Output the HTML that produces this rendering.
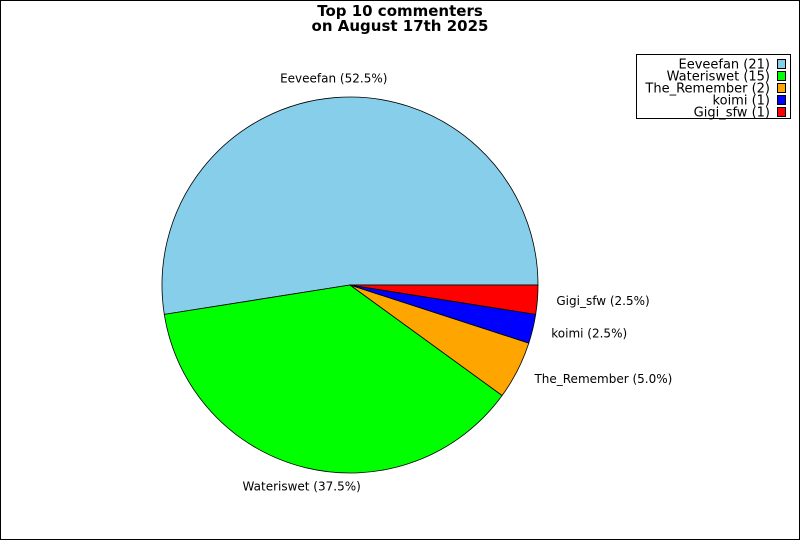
<!DOCTYPE html>
<html><head><meta charset="utf-8"><style>
body{margin:0;background:#fff}
svg{display:block;font-family:"DejaVu Sans","Liberation Sans",sans-serif}
</style></head><body>
<svg id="chart" width="800" height="540">
<rect x="0.5" y="0.5" width="799" height="539" fill="#fff" stroke="#000"/>
<text x="400" y="16" text-anchor="middle" font-size="15" font-weight="bold">Top 10 commenters</text>
<text x="400" y="31" text-anchor="middle" font-size="15" font-weight="bold">on August 17th 2025</text>
<g id="slices"></g><g id="labels"></g>
<g id="legend">
<rect x="636.5" y="54.5" width="154" height="64" fill="#fff" stroke="#000"/>
</g>
</svg>
<script>
const names=["Eeveefan","Wateriswet","The_Remember","koimi","Gigi_sfw"];
const counts=[21,15,2,1,1];
const colors=["#87ceeb","#00ff00","#ffa500","#0000ff","#ff0000"];
const NS="http://www.w3.org/2000/svg";
const cx=350,cy=285,r=188,lr=207;
const total=counts.reduce((a,b)=>a+b,0);
const sg=document.getElementById("slices"),lg=document.getElementById("labels"),leg=document.getElementById("legend");
function pt(a,rad){return [cx+Math.cos(a)*rad,cy-Math.sin(a)*rad];}
let start=0;
counts.forEach((c,i)=>{
  const frac=c/total,ang=frac*2*Math.PI,end=start+ang;
  const p0=pt(start,r),p1=pt(end,r);
  const p=document.createElementNS(NS,"path");
  p.setAttribute("d",`M${cx},${cy}L${p0[0]},${p0[1]}A${r},${r} 0 ${ang>Math.PI?1:0} 0 ${p1[0]},${p1[1]}Z`);
  p.setAttribute("fill",colors[i]);p.setAttribute("stroke","#000");p.setAttribute("stroke-width","0.8");
  
  
  sg.appendChild(p);
  const mid=(start+end)/2,lp=pt(mid,lr),cs=Math.cos(mid);
  const t=document.createElementNS(NS,"text");
  t.setAttribute("x",lp[0]);t.setAttribute("y",lp[1]+4);t.setAttribute("font-size","12");
  t.setAttribute("text-anchor",cs>0.3?"start":cs<-0.3?"end":"middle");
  t.textContent=`${names[i]} (${(frac*100).toFixed(1)}%)`;
  
  
  lg.appendChild(t);
  const y=64+i*12;
  const lt=document.createElementNS(NS,"text");
  lt.setAttribute("x",770);lt.setAttribute("y",y+4.5);lt.setAttribute("font-size","13");lt.setAttribute("text-anchor","end");
  lt.textContent=`${names[i]} (${c})`;
  
  
  leg.appendChild(lt);
  const sq=document.createElementNS(NS,"rect");
  sq.setAttribute("x",777.5);sq.setAttribute("y",y-4.5);sq.setAttribute("width",8);sq.setAttribute("height",9);
  sq.setAttribute("fill",colors[i]);sq.setAttribute("stroke","#000");
  
  
  leg.appendChild(sq);
  start=end;
});
</script>
</body></html>
